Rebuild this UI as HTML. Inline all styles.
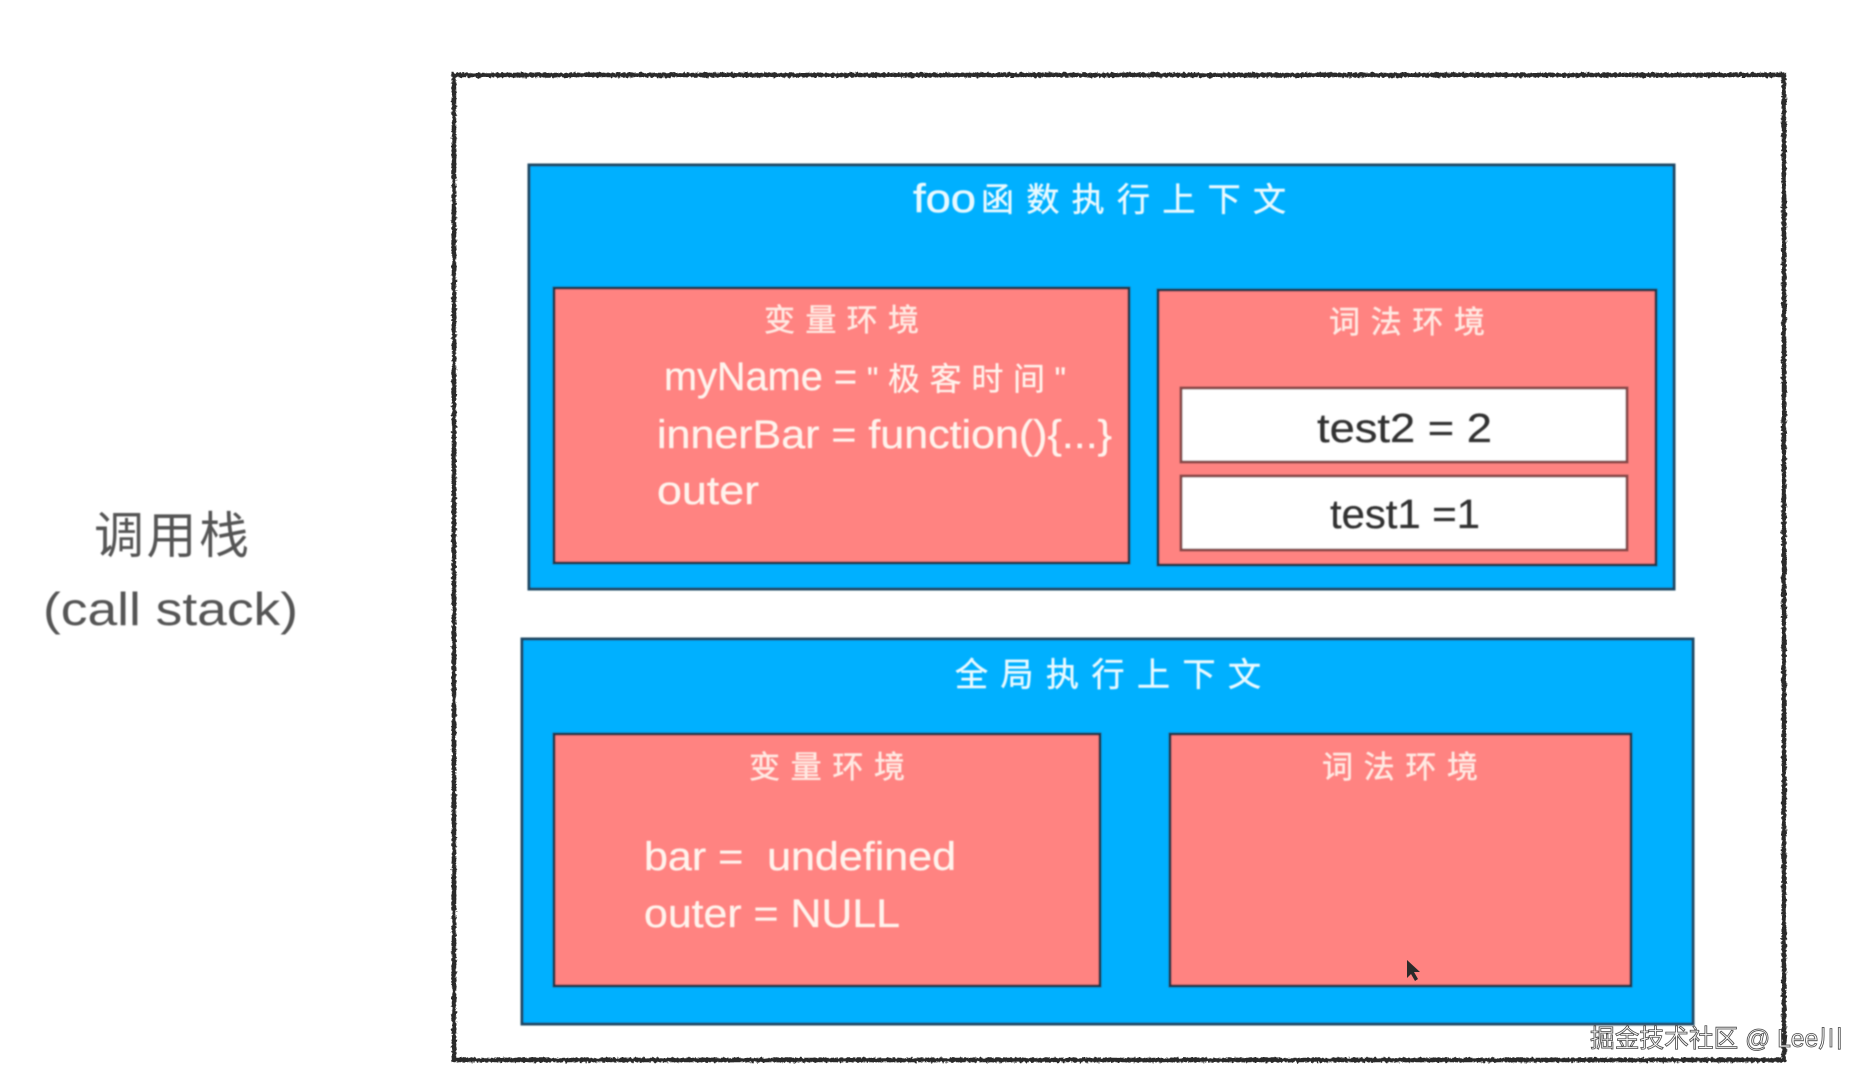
<!DOCTYPE html>
<html><head><meta charset="utf-8"><style>
html,body{margin:0;padding:0;background:#fff;width:1872px;height:1080px;overflow:hidden}
svg{display:block}
.c{font-family:"Liberation Sans","WenQuanYi Zen Hei","Noto Sans CJK SC",sans-serif}
.t{fill:#fff3ec;font-size:40px;stroke:#fff3ec;stroke-width:.3}
.h{fill:#ffe9e2;font-size:31px;stroke:#ffe9e2;stroke-width:.5}
.b{fill:#e8f9ff;font-size:33px;stroke:#e8f9ff;stroke-width:.5}
.d{fill:#333;font-size:41px;stroke:#333;stroke-width:.3}
</style></head><body>
<svg width="1872" height="1080" viewBox="0 0 1872 1080" xmlns="http://www.w3.org/2000/svg">
<defs>
<filter id="rough" x="-2%" y="-2%" width="104%" height="104%"><feTurbulence type="fractalNoise" baseFrequency="0.35" numOctaves="2" seed="4"/><feDisplacementMap in="SourceGraphic" scale="4"/></filter>
<filter id="soft" x="-2%" y="-2%" width="104%" height="104%"><feGaussianBlur stdDeviation="0.7"/></filter>
</defs>
<rect width="1872" height="1080" fill="#fff"/>
<rect x="454" y="75" width="1330" height="985" fill="#fff" stroke="#2b2b2b" stroke-width="4.5" filter="url(#rough)"/>
<g filter="url(#soft)" stroke="#1d4a66" stroke-width="3">
<rect x="529" y="165" width="1145" height="424" fill="#06b0ff"/>
<rect x="522" y="639" width="1171" height="385" fill="#06b0ff"/>
<g stroke="#1d3a50">
<rect x="554" y="288" width="575" height="275" fill="#ff8381"/>
<rect x="1158" y="290" width="498" height="275" fill="#ff8381"/>
<rect x="554" y="734" width="546" height="252" fill="#ff8381"/>
<rect x="1170" y="734" width="461" height="252" fill="#ff8381"/>
</g>
<g stroke="#8a4a4a">
<rect x="1181" y="388" width="446" height="74" fill="#fff"/>
<rect x="1181" y="476" width="446" height="74" fill="#fff"/>
</g>
</g>
<g class="c" filter="url(#soft)">
<text class="b" x="913" y="212" style="font-size:40px" textLength="63" lengthAdjust="spacingAndGlyphs">foo</text>
<text class="b" x="981" y="211" textLength="305" lengthAdjust="spacing">函数执行上下文</text>
<text class="b" x="955" y="686" textLength="306" lengthAdjust="spacing">全局执行上下文</text>
<text class="h" x="764" y="331" textLength="155" lengthAdjust="spacing">变量环境</text>
<text class="h" x="1329" y="333" textLength="156" lengthAdjust="spacing">词法环境</text>
<text class="h" x="749" y="778" textLength="156" lengthAdjust="spacing">变量环境</text>
<text class="h" x="1322" y="778" textLength="156" lengthAdjust="spacing">词法环境</text>
<text class="t" x="664" y="390" textLength="193" lengthAdjust="spacingAndGlyphs">myName =</text>
<text class="t" x="867" y="390" textLength="199" lengthAdjust="spacing" style="font-size:32px">"极客时间"</text>
<text class="t" x="657" y="448" textLength="455" lengthAdjust="spacingAndGlyphs">innerBar = function(){...}</text>
<text class="t" x="657" y="504" textLength="102" lengthAdjust="spacingAndGlyphs">outer</text>
<text class="t" x="644" y="870" textLength="312" lengthAdjust="spacingAndGlyphs" xml:space="preserve">bar =  undefined</text>
<text class="t" x="644" y="927" textLength="256" lengthAdjust="spacingAndGlyphs">outer = NULL</text>
<text class="d" x="1317" y="442" textLength="175" lengthAdjust="spacingAndGlyphs">test2 = 2</text>
<text class="d" x="1330" y="528" textLength="150" lengthAdjust="spacingAndGlyphs">test1 =1</text>
<text x="94" y="553" font-size="50" fill="#555" textLength="155" lengthAdjust="spacing">调用栈</text>
<text x="43" y="625" font-size="46" fill="#555" textLength="255" lengthAdjust="spacingAndGlyphs">(call stack)</text>
</g>
<path d="M1407 960 L1407 978 L1411 974 L1415 981 L1418 979 L1414 972 L1420 972 Z" fill="#2a2a2a"/>
<text class="c" x="1590" y="1047" font-size="25" fill="#fff" stroke="#444" stroke-width="0.8" textLength="253" lengthAdjust="spacingAndGlyphs">掘金技术社区 @ Lee川</text>
</svg>
</body></html>
